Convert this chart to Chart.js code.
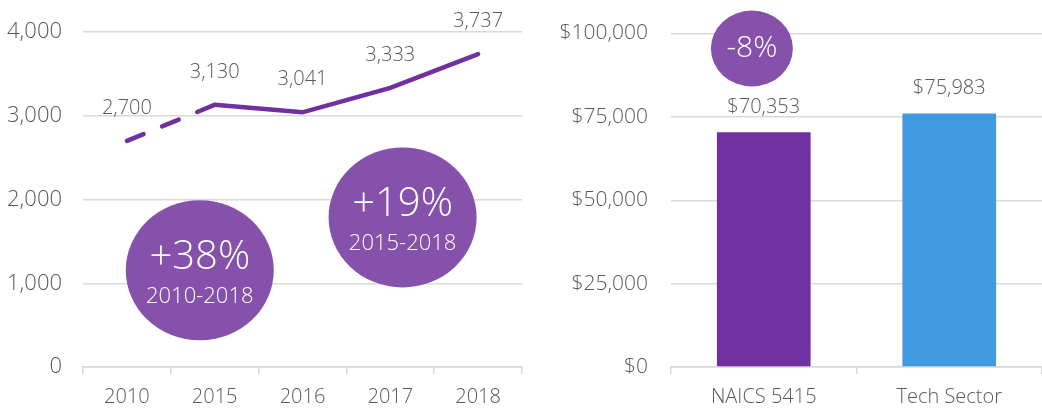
<!DOCTYPE html>
<html>
<head>
<meta charset="utf-8">
<script src="https://cdn.jsdelivr.net/npm/chart.js@4.4.1/dist/chart.umd.min.js"></script>
<style>
    html, body { margin: 0; padding: 0; background: #ffffff; }
    .wrap { display: flex; width: 1042px; height: 409px; }
    .box { position: relative; height: 409px; }
</style>
</head>
<body>
<div class="wrap">
    <div class="box" style="width:530px"><canvas id="lineCanvas"></canvas></div>
    <div class="box" style="width:512px"><canvas id="barCanvas"></canvas></div>
</div>
<script>
// left chart: employment by year
var years = ["2010", "2015", "2016", "2017", "2018"];
var workers = [2700, 3130, 3041, 3333, 3737];
var workerTicks = [0, 1000, 2000, 3000, 4000];

// right chart: average wage
var groups = ["NAICS 5415", "Tech Sector"];
var wages = [70353, 75983];
var wageTicks = [0, 25000, 50000, 75000, 100000];

// callout bubbles (placed in data units)
var lineBubbles = [
    { big: "+38%", small: "2010-2018", x: 0.83, y: 1155 },
    { big: "+19%", small: "2015-2018", x: 3.14, y: 1786 }
];
var barBubbles = [
    { big: "-8%", small: "", x: -0.064, y: 95500 }
];

var FONT = "'Open Sans', 'Liberation Sans', sans-serif";
var TEXT = "#595959";
var PURPLE = "#7030A0";
var BUBBLE = "#8651AB";
var BLUE = "#4199E1";
var GRID = "#D9D9D9";

Chart.defaults.font.family = FONT;
Chart.defaults.font.weight = 300;
Chart.defaults.color = TEXT;

function fmtNum(v) {
    return v.toLocaleString("en-US");
}

function fmtMoney(v) {
    return "$" + v.toLocaleString("en-US");
}

/*
 * draws value labels above each point/bar and the purple callout bubbles
 */
function labelPlugin(formatter, lift, bubbles, rx, ry, bigSize, smallSize) {
    return {
        id: "labels",
        afterDatasetsDraw: function(chart) {
            var ctx = chart.ctx;
            var meta = chart.getDatasetMeta(0);
            var values = chart.data.datasets[0].data;
            ctx.save();
            ctx.fillStyle = TEXT;
            ctx.font = "300 20px " + FONT;
            ctx.textAlign = "center";
            ctx.textBaseline = "middle";
            meta.data.forEach(function(el, i) {
                ctx.fillText(formatter(values[i]), el.x, el.y - lift);
            });

            var xs = chart.scales.x;
            var ys = chart.scales.y;
            bubbles.forEach(function(b) {
                var cx = xs.getPixelForValue(b.x);
                var cy = ys.getPixelForValue(b.y);
                ctx.fillStyle = BUBBLE;
                ctx.beginPath();
                ctx.ellipse(cx, cy, rx, ry, 0, 0, Math.PI * 2);
                ctx.fill();
                ctx.fillStyle = "#ffffff";
                if (b.small) {
                    ctx.font = "300 " + bigSize + "px " + FONT;
                    ctx.fillText(b.big, cx, cy - 13);
                    ctx.font = "300 " + smallSize + "px " + FONT;
                    ctx.fillText(b.small, cx, cy + 26);
                } else {
                    ctx.font = "300 " + bigSize + "px " + FONT;
                    ctx.fillText(b.big, cx, cy);
                }
            });
            ctx.restore();
        }
    };
}

var lineChart = new Chart(document.getElementById("lineCanvas"), {
    type: "line",
    data: {
        labels: years,
        datasets: [{
            data: workers,
            borderColor: PURPLE,
            borderWidth: 4.5,
            pointRadius: 0,
            tension: 0,
            borderCapStyle: "round",
            segment: {
                borderDash: function(c) { return c.p0DataIndex === 0 ? [18, 20] : undefined; }
            }
        }]
    },
    options: {
        responsive: true,
        maintainAspectRatio: false,
        animation: false,
        layout: { padding: { top: 14, right: 8, left: 0, bottom: 0 } },
        plugins: { legend: { display: false }, tooltip: { enabled: false } },
        scales: {
            x: {
                offset: true,
                afterFit: function(s) { s.height = 42; },
                grid: { display: true, drawOnChartArea: false, offset: true, tickLength: 7, color: GRID, lineWidth: 1.5 },
                border: { color: GRID, width: 1.5 },
                ticks: { font: { size: 20 }, padding: 11 }
            },
            y: {
                min: 0,
                max: 4000,
                afterBuildTicks: function(s) { s.ticks = workerTicks.map(function(v) { return { value: v }; }); },
                afterFit: function(s) { s.width = 83; },
                grid: { color: GRID, lineWidth: 1.5, drawTicks: false },
                border: { display: false },
                ticks: { font: { size: 22, lineHeight: 1 }, padding: 21, callback: function(v) { return fmtNum(v); } }
            }
        }
    },
    plugins: [labelPlugin(fmtNum, 33, lineBubbles, 74, 70, 40, 22)]
});

var barChart = new Chart(document.getElementById("barCanvas"), {
    type: "bar",
    data: {
        labels: groups,
        datasets: [{
            data: wages,
            backgroundColor: [PURPLE, BLUE],
            categoryPercentage: 1,
            barPercentage: 0.505
        }]
    },
    options: {
        responsive: true,
        maintainAspectRatio: false,
        animation: false,
        layout: { padding: { top: 14, right: 0, left: 0, bottom: 0 } },
        plugins: { legend: { display: false }, tooltip: { enabled: false } },
        scales: {
            x: {
                afterFit: function(s) { s.height = 42; },
                grid: { display: true, drawOnChartArea: false, offset: true, tickLength: 7, color: GRID, lineWidth: 1.5 },
                border: { color: GRID, width: 1.5 },
                ticks: { font: { size: 20 }, padding: 11 }
            },
            y: {
                min: 0,
                max: 100000,
                afterBuildTicks: function(s) { s.ticks = wageTicks.map(function(v) { return { value: v }; }); },
                afterFit: function(s) { s.width = 141; },
                grid: { color: GRID, lineWidth: 1.5, drawTicks: false },
                border: { display: false },
                ticks: { font: { size: 21, lineHeight: 1 }, padding: 23, callback: function(v) { return fmtMoney(v); } }
            }
        }
    },
    plugins: [labelPlugin(fmtMoney, 25, barBubbles, 41, 38, 30, 0)]
});
</script>
</body>
</html>
